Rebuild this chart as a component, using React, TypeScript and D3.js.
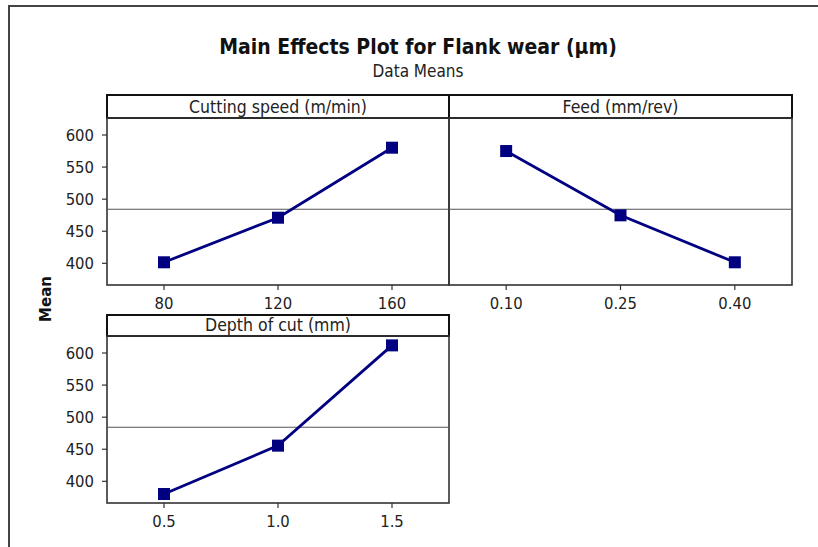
import React from "react";
import * as d3 from "d3";

const titleText = "Main Effects Plot for Flank wear (µm)";
const subtitleText = "Data Means";
const yLabel = "Mean";

const speedName = "Cutting speed (m/min)";
const speedLevels = ["80", "120", "160"];
const speedMeans = [401.6, 471.1, 580.2];

const feedName = "Feed (mm/rev)";
const feedLevels = ["0.10", "0.25", "0.40"];
const feedMeans = [575.0, 474.8, 401.6];

const depthName = "Depth of cut (mm)";
const depthLevels = ["0.5", "1.0", "1.5"];
const depthMeans = [380.2, 455.6, 611.9];

const grandMean = 484.3;
const yTicks = [400, 450, 500, 550, 600];
const yDomain = [366.2, 626.5];

const FONT = "'DejaVu Sans Condensed', 'DejaVu Sans', sans-serif";
const FONT_WIDE = "'DejaVu Sans', sans-serif";
const NAVY = "#000080";

type PanelSpec = {
  name: string;
  levels: string[];
  values: number[];
  x0: number;
  x1: number;
  stripTop: number;
  top: number;
  bottom: number;
  yAxis: boolean;
};

const panels: PanelSpec[] = [
  { name: speedName, levels: speedLevels, values: speedMeans, x0: 107, x1: 449, stripTop: 95, top: 118, bottom: 285, yAxis: true },
  { name: feedName, levels: feedLevels, values: feedMeans, x0: 449, x1: 792, stripTop: 95, top: 118, bottom: 285, yAxis: false },
  { name: depthName, levels: depthLevels, values: depthMeans, x0: 107, x1: 449, stripTop: 315, top: 336, bottom: 503, yAxis: true },
];

function Panel({ p }: { p: PanelSpec }) {
  const x = d3.scalePoint<string>().domain(p.levels).range([p.x0, p.x1]).padding(0.5);
  const y = d3.scaleLinear().domain(yDomain).range([p.bottom, p.top]);
  const pts: [number, number][] = p.levels.map((l, i) => [x(l) as number, y(p.values[i])]);
  const line = d3.line()(pts) as string;
  const ms = 12;
  return (
    <g>
      <rect x={p.x0} y={p.stripTop} width={p.x1 - p.x0} height={p.top - p.stripTop} fill="white" stroke="#111" strokeWidth={2} />
      <text x={(p.x0 + p.x1) / 2} y={p.top - 5} textAnchor="middle" fontFamily={FONT} fontSize={17.5} fill="#222">
        {p.name}
      </text>
      <rect x={p.x0} y={p.top} width={p.x1 - p.x0} height={p.bottom - p.top} fill="none" stroke="#333" strokeWidth={1.6} />
      <line x1={p.x0} x2={p.x1} y1={y(grandMean)} y2={y(grandMean)} stroke="#555" strokeWidth={1.2} />
      {p.yAxis &&
        yTicks.map((t) => (
          <g key={t}>
            <line x1={p.x0 - 5} x2={p.x0} y1={y(t)} y2={y(t)} stroke="#333" strokeWidth={1.2} />
            <text x={p.x0 - 13} y={y(t) + 6} textAnchor="end" fontFamily={FONT} fontSize={16.5} fill="#222">
              {t}
            </text>
          </g>
        ))}
      {p.levels.map((l) => (
        <g key={l}>
          <line x1={x(l)} x2={x(l)} y1={p.bottom} y2={p.bottom + 5} stroke="#333" strokeWidth={1.2} />
          <text x={x(l)} y={p.bottom + 24} textAnchor="middle" fontFamily={FONT} fontSize={16.5} fill="#222">
            {l}
          </text>
        </g>
      ))}
      <path d={line} fill="none" stroke={NAVY} strokeWidth={2.8} />
      {pts.map(([px, py], i) => (
        <rect key={i} x={px - ms / 2} y={py - ms / 2} width={ms} height={ms} fill={NAVY} />
      ))}
    </g>
  );
}

export default function App() {
  return (
    <svg width={818} height={547} style={{ position: "absolute", left: 0, top: 0, background: "white" }}>
      <rect x={0} y={0} width={818} height={547} fill="white" />
      <path d="M9,547 L9,6 L818,6" fill="none" stroke="#444" strokeWidth={2} />
      <text x={418} y={54} textAnchor="middle" fontFamily={FONT} fontWeight="bold" fontSize={21} fill="#111">
        {titleText}
      </text>
      <text x={418} y={77} textAnchor="middle" fontFamily={FONT} fontSize={17} fill="#222">
        {subtitleText}
      </text>
      <text transform="translate(51,299) rotate(-90)" textAnchor="middle" fontFamily={FONT_WIDE} fontWeight="bold" fontSize={15} fill="#111">
        {yLabel}
      </text>
      {panels.map((p) => (
        <Panel key={p.name} p={p} />
      ))}
    </svg>
  );
}
